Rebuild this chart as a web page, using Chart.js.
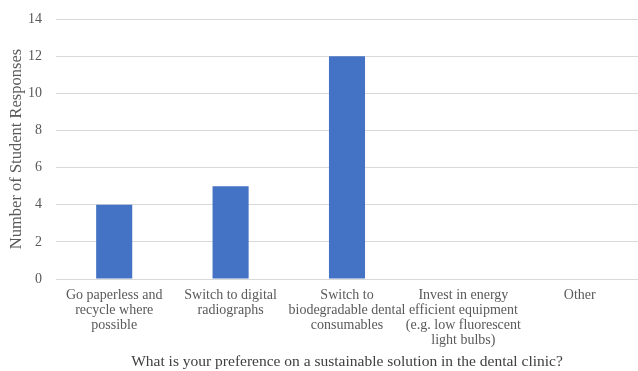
<!DOCTYPE html>
<html>
<head>
<meta charset="utf-8">
<script src="https://cdn.jsdelivr.net/npm/chart.js@4/dist/chart.umd.min.js"></script>
<style>
  html, body { margin: 0; padding: 0; background: #fff; }
  #wrap { width: 638px; height: 371px; }
</style>
</head>
<body>
<div id="wrap"><canvas id="c" width="638" height="371"></canvas></div>
<script>
const categories = [
  ["Go paperless and", "recycle where", "possible"],
  ["Switch to digital", "radiographs"],
  ["Switch to", "biodegradable dental", "consumables"],
  ["Invest in energy", "efficient equipment", "(e.g. low fluorescent", "light bulbs)"],
  ["Other"]
];
const responses = [4, 5, 12, 0, 0];
const yTicks = [0, 2, 4, 6, 8, 10, 12, 14];

const serif = "'Liberation Serif', 'Times New Roman', serif";
const textGray = '#595959';

new Chart(document.getElementById('c'), {
  type: 'bar',
  data: {
    labels: categories,
    datasets: [{
      data: responses,
      backgroundColor: '#4472C4',
      borderWidth: 0,
      categoryPercentage: 1,
      barPercentage: 0.31
    }]
  },
  options: {
    responsive: false,
    animation: false,
    devicePixelRatio: 1,
    layout: { padding: { top: 19, right: 0, left: 5, bottom: 0 } },
    plugins: { legend: { display: false }, tooltip: { enabled: false } },
    scales: {
      x: {
        grid: { display: false, drawTicks: false },
        border: { color: '#d9d9d9', width: 1 },
        ticks: {
          color: textGray,
          font: { family: serif, size: 14, lineHeight: 1.07 },
          maxRotation: 0,
          autoSkip: false,
          padding: 9
        },
        title: {
          display: true,
          text: 'What is your preference on a sustainable solution in the dental clinic?',
          color: '#404040',
          font: { family: serif, size: 15.5 },
          padding: { top: 5, bottom: 0 }
        },
        afterFit: (s) => { s.height = 92; s.paddingLeft = 0; s.paddingRight = 0; }
      },
      y: {
        min: 0,
        max: 14,
        afterBuildTicks: (axis) => { axis.ticks = yTicks.map(v => ({ value: v })); },
        grid: { color: '#d9d9d9', drawTicks: false },
        border: { display: false },
        ticks: {
          color: textGray,
          font: { family: serif, size: 14 },
          padding: 14
        },
        title: {
          display: true,
          text: 'Number of Student Responses',
          color: textGray,
          font: { family: serif, size: 16.5 },
          padding: { top: 2, bottom: 3 }
        },
        afterFit: (s) => { s.width = 51; s.paddingTop = 0; s.paddingBottom = 0; }
      }
    }
  }
});
</script>
</body>
</html>
